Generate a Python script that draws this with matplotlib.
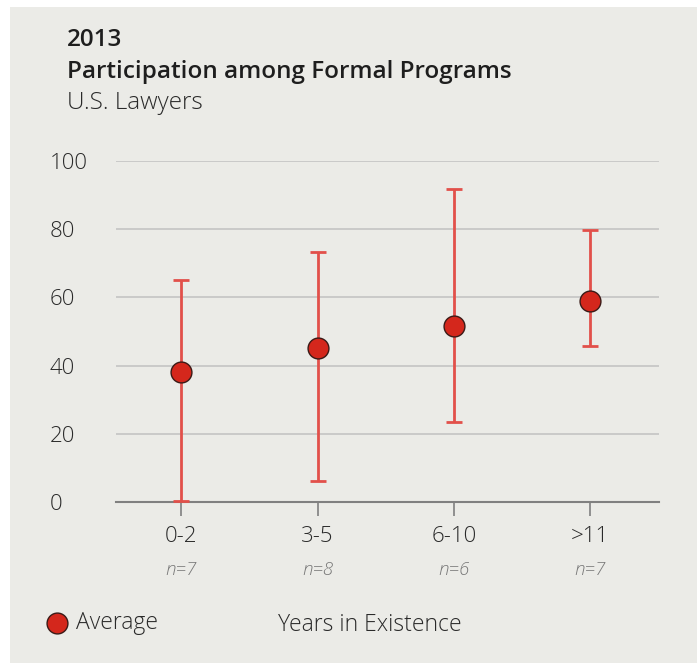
import matplotlib.pyplot as plt
from matplotlib.patches import Rectangle
from matplotlib.lines import Line2D

plt.rcParams["font.family"] = ["Open Sans", "DejaVu Sans"]

categories = ["0-2", "3-5", "6-10", ">11"]
counts = ["n=7", "n=8", "n=6", "n=7"]
average = [38, 45.2, 51.6, 59]
upper = [65, 73.3, 91.8, 79.8]
lower = [0.4, 6.2, 23.5, 45.7]

W, H = 699, 664
bg = "#ebebe7"
dot = "#d4271c"
bar = "#e2504a"
txt = "#2a2a2a"

fig = plt.figure(figsize=(W / 100, H / 100), dpi=100, facecolor="white")
fig.patches.append(Rectangle((10 / W, 1 - 663 / H), 687 / W, 656 / H,
                             transform=fig.transFigure, facecolor=bg,
                             edgecolor="none", zorder=-10))

# axes box: x 116..659 px, y 161..502 px
ax = fig.add_axes([116 / W, 1 - 502 / H, 543 / W, 341 / H])
ax.set_facecolor("none")

x = list(range(len(categories)))
yerr = [[a - l for a, l in zip(average, lower)],
        [u - a for a, u in zip(average, upper)]]
ax.errorbar(x, average, yerr=yerr, fmt="none", ecolor=bar, elinewidth=2.0,
            capsize=5.5, capthick=2.0, zorder=3)
ax.plot(x, average, "o", ms=15, mfc=dot, mec="#3a1a17", mew=1.0, zorder=4)

ax.set_xlim(-0.48, 3.505)
ax.set_ylim(0, 100)
ax.set_yticks([0, 20, 40, 60, 80, 100])
ax.yaxis.grid(True, color="#c4c4c4", lw=1.2)
ax.set_axisbelow(True)
for s in ["left", "right", "top"]:
    ax.spines[s].set_visible(False)
ax.spines["bottom"].set_color("#808080")
ax.spines["bottom"].set_linewidth(1.5)
ax.spines["bottom"].set_zorder(2)

ax.set_xticks(x)
ax.set_xticklabels(categories, fontsize=16, color=txt, fontweight=300)
ax.tick_params(axis="x", length=10, width=1.2, color="#808080", pad=7)
ax.tick_params(axis="y", length=0, labelsize=16, labelcolor=txt, pad=48)
for lbl in ax.get_yticklabels():
    lbl.set_horizontalalignment("left")
    lbl.set_fontweight(300)

for xi, n in zip(x, counts):
    ax.text(xi, -0.2, n, transform=ax.get_xaxis_transform(), ha="center",
            va="center", fontsize=13.5, style="italic", color="#777777",
            fontweight=300)

fig.text(67 / W, 1 - 40 / H, "2013", fontsize=17.5, fontweight=600,
         color="#1e1e1e", va="center", ha="left")
fig.text(67 / W, 1 - 72 / H, "Participation among Formal Programs",
         fontsize=17.5, fontweight=600, color="#1e1e1e", va="center", ha="left")
fig.text(67 / W, 1 - 103 / H, "U.S. Lawyers", fontsize=17.5, color=txt,
         va="center", ha="left", fontweight=300)

fig.lines.append(Line2D([57 / W], [1 - 623 / H], marker="o", ms=15, mfc=dot,
                        mec="#3a1a17", mew=1.0, transform=fig.transFigure))
fig.text(76 / W, 1 - 623 / H, "Average", fontsize=16.5, color=txt,
         va="center", ha="left", fontweight=300)
fig.text(370 / W, 1 - 625 / H, "Years in Existence", fontsize=16.5,
         color=txt, va="center", ha="center", fontweight=300)

fig.savefig("out.png", dpi=100, facecolor="white")
